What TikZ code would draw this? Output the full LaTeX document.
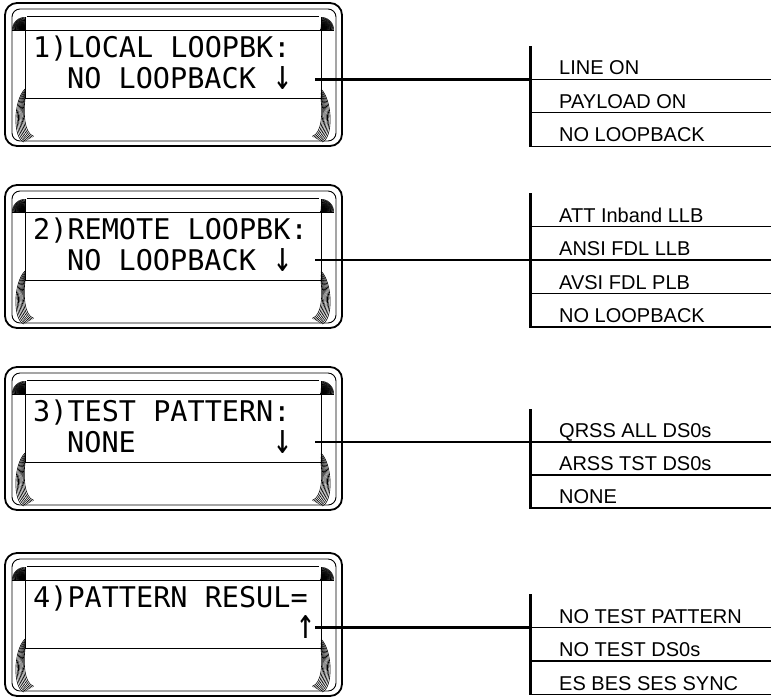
\documentclass[tikz,border=0pt]{standalone}
\usepackage{fontspec}
\setmainfont{Liberation Sans}
\newfontfamily\lcdfont{DejaVu Sans Mono}
\usetikzlibrary{calc}

\tikzset{
  lcd/.style={font=\lcdfont\fontsize{28.5}{30}\selectfont, inner sep=0pt, anchor=base west},
  lcdarrow/.style={font=\lcdfont\fontsize{28.5}{30}\selectfont, inner sep=0pt},
  item/.style={font=\fontsize{20}{24}\selectfont, inner sep=0pt, anchor=base west},
  rule/.style={line width=1.3pt},
  bar/.style={line width=3pt},
  wire/.style={line width=2.6pt},
  fan/.style={line width=0.6pt}
}

\begin{document}
\begin{tikzpicture}[x=1pt, y=-1pt]
  \useasboundingbox (0,0) rectangle (771,697);

  % LCD frames
  \foreach \t in {3,185,367,553} {
    \draw[line width=1.8pt, rounded corners=12pt] (5,\t) rectangle (342,\t+143);
    \draw[line width=0.9pt, rounded corners=8pt] (12,\t+6) rectangle (336,\t+138);
    \draw[line width=0.9pt] (25,\t+27) rectangle (321,\t+95);
    \draw[line width=0.9pt] (27,\t+13) -- (319,\t+13);
    % top corner shading
    \foreach \a [evaluate=\a as \b using 540-\a] in {180,183,...,270} {
      \draw[fan] (25,\t+27) -- ++(\a:13);
      \draw[fan] (321,\t+27) -- ++(\b:13);
    }
    % bottom corner shading
    \foreach \k in {0,...,7} {
      \draw[fan] (25,\t+86+1.4*\k) .. controls (13+1.5*\k,\t+98+1.4*\k) and (13+1.5*\k,\t+136-0.8*\k) .. (24+1.4*\k,\t+139-0.8*\k);
      \draw[fan] (321,\t+86+1.4*\k) .. controls (333-1.5*\k,\t+98+1.4*\k) and (333-1.5*\k,\t+136-0.8*\k) .. (322-1.4*\k,\t+139-0.8*\k);
    }
  }

  % Display texts
  \node[lcd] (lcd1a) at (33,57) {1)LOCAL LOOPBK:};
  \node[lcd] (lcd1b) at (67,88) {NO LOOPBACK};
  \node[lcdarrow] (arr1) at (283,78) {\scalebox{1.1}[1.5]{↓}};

  \node[lcd] (lcd2a) at (33,239) {2)REMOTE LOOPBK:};
  \node[lcd] (lcd2b) at (67,270) {NO LOOPBACK};
  \node[lcdarrow] (arr2) at (283,260) {\scalebox{1.1}[1.5]{↓}};

  \node[lcd] (lcd3a) at (33,421) {3)TEST PATTERN:};
  \node[lcd] (lcd3b) at (67,452) {NONE};
  \node[lcdarrow] (arr3) at (283,442) {\scalebox{1.1}[1.5]{↓}};

  \node[lcd] (lcd4a) at (33,607) {4)PATTERN RESUL=};
  \node[lcdarrow] (arr4) at (306,627) {\scalebox{1.1}[1.5]{↑}};

  % Wires to option lists
  \coordinate (s1) at (315,79.4);  \coordinate (j1) at (530,79.4);
  \coordinate (s2) at (315,260);   \coordinate (j2) at (530,260);
  \coordinate (s3) at (315,442);   \coordinate (j3) at (530,442);
  \coordinate (s4) at (315,627.5); \coordinate (j4) at (530,627.5);
  \draw[wire] (s1) -- (j1);
  \draw[wire] (s2) -- (j2);
  \draw[wire] (s3) -- (j3);
  \draw[wire] (s4) -- (j4);

  % Option list 1
  \draw[bar] (530,46) -- (530,147);
  \foreach \txt [count=\i] in {LINE ON, PAYLOAD ON, NO LOOPBACK} {
    \node[item] (opt1-\i) at (559,46+33.4*\i-4.5) {\txt};
    \draw[rule] (531,46+33.4*\i) -- (771,46+33.4*\i);
  }

  % Option list 2
  \draw[bar] (530,193) -- (530,328);
  \foreach \txt [count=\i] in {ATT Inband LLB, ANSI FDL LLB, AVSI FDL PLB, NO LOOPBACK} {
    \node[item] (opt2-\i) at (559,193+33.5*\i-4.5) {\txt};
    \draw[rule] (531,193+33.5*\i) -- (771,193+33.5*\i);
  }

  % Option list 3
  \draw[bar] (530,409) -- (530,509);
  \foreach \txt [count=\i] in {QRSS ALL DS0s, ARSS TST DS0s, NONE} {
    \node[item] (opt3-\i) at (559,409+33*\i-4.5) {\txt};
    \draw[rule] (531,409+33*\i) -- (771,409+33*\i);
  }

  % Option list 4
  \draw[bar] (530,594) -- (530,695);
  \foreach \txt [count=\i] in {NO TEST PATTERN, NO TEST DS0s, ES BES SES SYNC} {
    \node[item] (opt4-\i) at (559,594+33.5*\i-4.5) {\txt};
    \draw[rule] (531,594+33.5*\i) -- (771,594+33.5*\i);
  }
\end{tikzpicture}
\end{document}
